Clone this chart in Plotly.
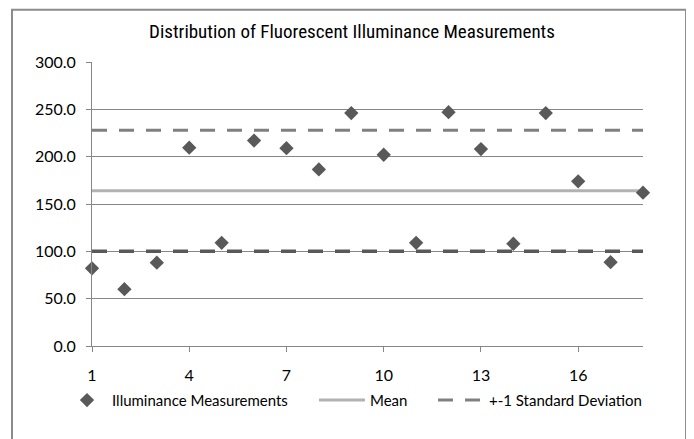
import plotly.graph_objects as go

# ---- data ----
sample_no = list(range(1, 19))
illuminance = [82, 60, 88, 209.5, 109, 217, 209, 186.5, 246, 202, 109, 247, 208, 108, 246, 174, 88.5, 162]
mean_value = [164.0, 164.0]
sd_upper = [228.0, 228.0]
sd_lower = [100.0, 100.0]
line_x = [1, 18]
x_ticks = [1, 4, 7, 10, 13, 16]
y_ticks = [0, 50, 100, 150, 200, 250, 300]

FONT = "Lato, Carlito, 'Open Sans', sans-serif"
TITLE_FONT = "'Liberation Sans Narrow', 'Roboto Condensed', 'DejaVu Sans Condensed', sans-serif"

# page body has an 8px margin: figure is sized/offset to compensate
OFF = 8
W, H = 694 - OFF, 439 - OFF
PL, PR, PT, PB = 92, 643, 61.7, 345.7  # plot area in window pixels


def px(xabs):
    return (xabs - PL) / (PR - PL)


def py(yabs):
    return (PB - yabs) / (PB - PT)


fig = go.Figure()

fig.add_trace(go.Scatter(
    x=line_x, y=mean_value, mode="lines", name="Mean", legend="legend2",
    line=dict(color="#b2b2b2", width=3),
))
fig.add_trace(go.Scatter(
    x=line_x, y=sd_upper, mode="lines", name="+-1 Standard Deviation",
    legend="legend3", line=dict(color="#808080", width=3, dash="15px,12px"),
))
fig.add_trace(go.Scatter(
    x=line_x, y=sd_lower, mode="lines", name="+-1 Standard Deviation",
    legend="legend3", showlegend=False,
    line=dict(color="#595959", width=3.5, dash="15px,12px"),
))
fig.add_trace(go.Scatter(
    x=sample_no, y=illuminance, mode="markers", name="Illuminance Measurements",
    legend="legend",
    marker=dict(symbol="diamond", size=11, color="#595959"),
    cliponaxis=False,
))

leg_common = dict(orientation="h", yanchor="middle", y=py(400), xanchor="left",
                  font=dict(family=FONT, size=15, color="#000000"),
                  bgcolor="rgba(0,0,0,0)")

fig.update_layout(
    width=W, height=H,
    margin=dict(l=PL - OFF, r=W - (PR - OFF), t=PT - OFF, b=H - (PB - OFF)),
    paper_bgcolor="white", plot_bgcolor="white",
    font=dict(family=FONT, size=15, color="#000000"),
    title=dict(text="Distribution of Fluorescent Illuminance Measurements",
               x=(352 - OFF) / W, xanchor="center",
               y=1 - (31.5 - OFF) / H, yanchor="middle",
               font=dict(family=TITLE_FONT, size=19, color="#000000")),
    showlegend=True,
    legend=dict(x=px(62), itemwidth=40, **leg_common),
    legend2=dict(x=px(314), itemwidth=46, **leg_common),
    legend3=dict(x=px(433), itemwidth=46, **leg_common),
    xaxis=dict(range=[1, 18], tickvals=x_ticks, showgrid=False, zeroline=False,
               showline=True, linecolor="#868686", linewidth=1,
               ticks="outside", ticklen=5, tickcolor="#868686",
               ticklabelstandoff=10,
               tickfont=dict(family=FONT, size=16)),
    yaxis=dict(range=[0, 300], tickvals=y_ticks, tickformat=".1f",
               showgrid=True, gridcolor="#868686", gridwidth=1, zeroline=False,
               showline=True, linecolor="#868686", linewidth=1,
               ticks="outside", ticklen=5, tickcolor="#868686",
               ticklabelstandoff=7,
               tickfont=dict(family=FONT, size=16)),
)

# chart-area border (Excel style); top edge kept inside the figure
fig.add_shape(type="rect", xref="paper", yref="paper",
              x0=px(12), x1=px(686), y0=py(455), y1=py(OFF + 1.5),
              line=dict(color="#8c8c8c", width=2), fillcolor="rgba(0,0,0,0)",
              layer="below")

fig.write_html("out.html")
